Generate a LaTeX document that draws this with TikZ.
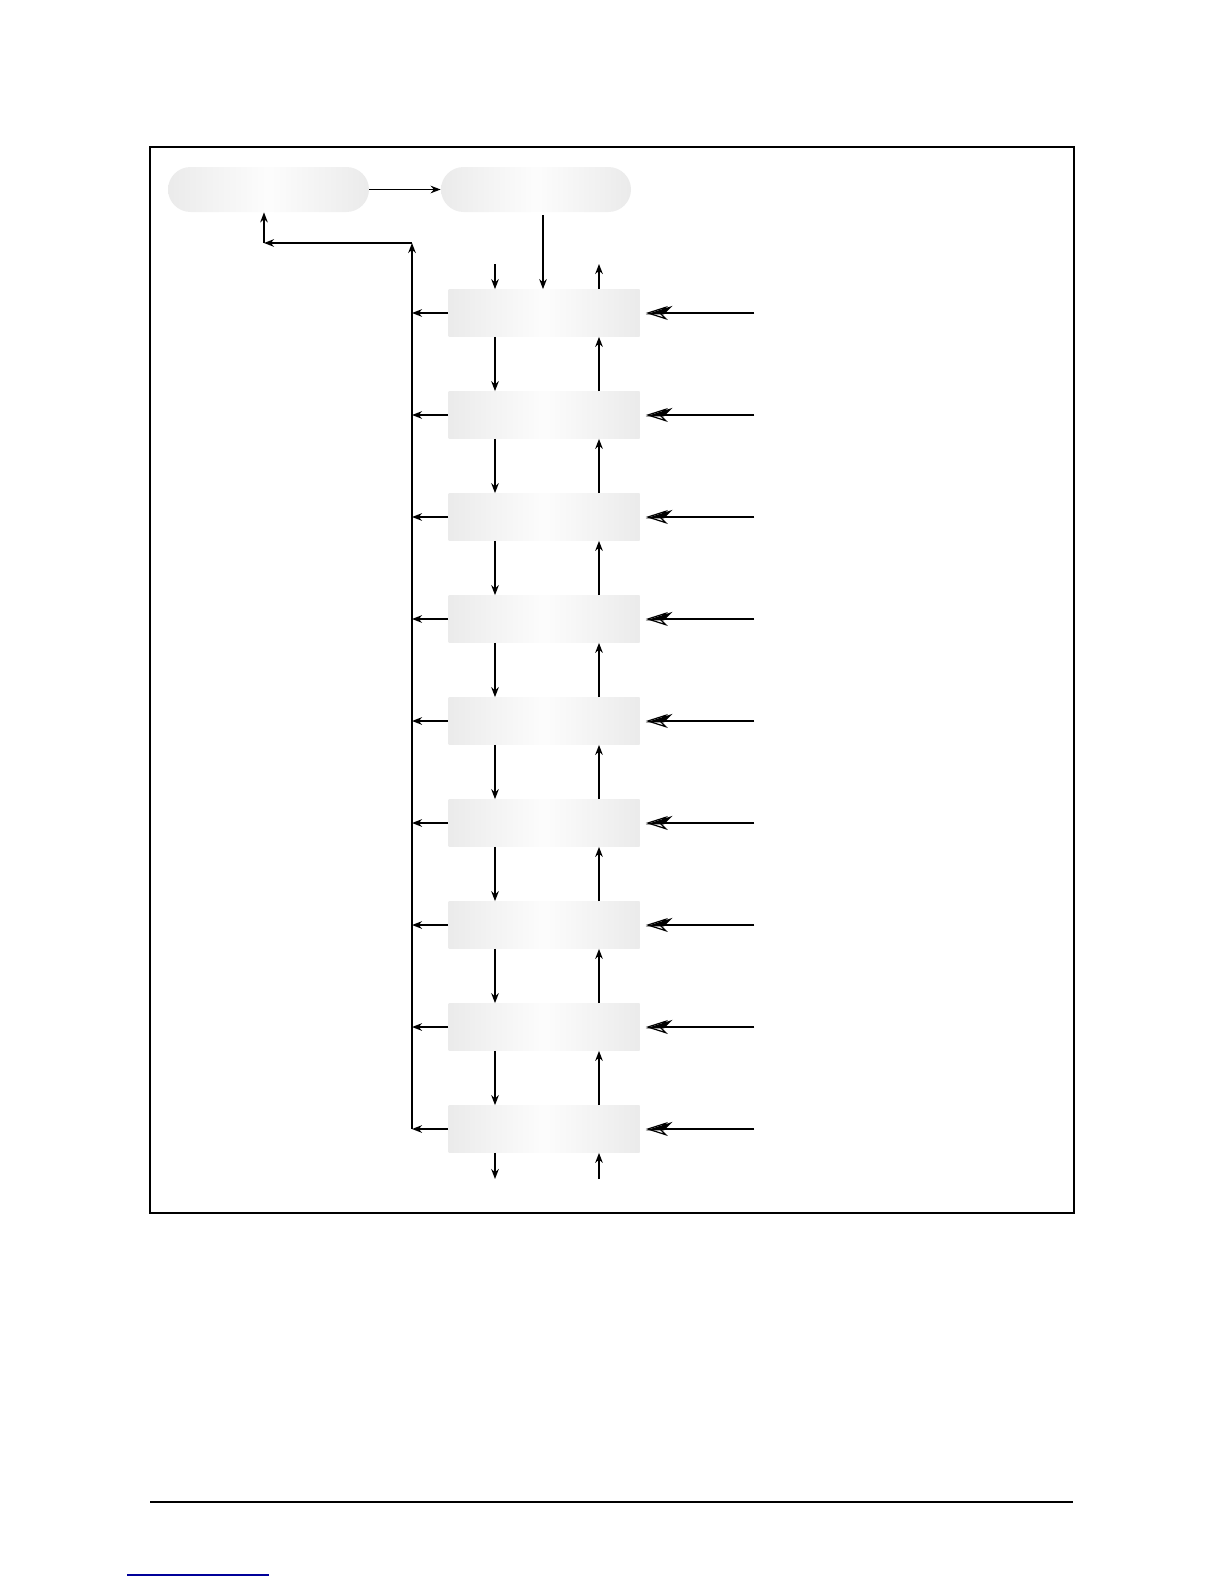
\documentclass[tikz,border=0pt]{standalone}
\usetikzlibrary{arrows.meta,shapes.misc}
\begin{document}
\begin{tikzpicture}[x=0.5pt,y=-0.5pt,
  arr/.style={-{Stealth[length=5pt,width=3.8pt]}, line width=0.8pt},
  inp/.style={-{Stealth[length=11pt,width=7pt,inset=3.5pt,open,line width=0.6pt]}, line width=1.4pt},
  inpfill/.style={-{Stealth[length=11pt,width=7pt,inset=3.5pt,harpoon,swap]}, line width=1.4pt},
  stagebox/.style={draw=none, minimum width=95.5pt, minimum height=23.5pt, inner sep=0pt,
    left color=black!8, right color=black!8, middle color=black!1},
  termbox/.style={draw=none, rounded rectangle, minimum height=22.5pt, inner sep=0pt,
    left color=black!8, right color=black!8, middle color=black!1}]
\useasboundingbox (0,0) rectangle (1224,1584);
% frame and page rules
\draw[line width=1pt] (150,147) rectangle (1074,1213);
\draw[line width=0.9pt] (150,1502) -- (1073,1502);
\draw[line width=0.9pt, blue!60!black] (127,1575) -- (269,1575);
% top terminals
\node[termbox, minimum width=100.5pt] (tl) at (268.5,189.5) {};
\node[termbox, minimum width=95pt] (tr) at (536,189.5) {};
\draw[arr] (tl.east) -- (tr.west);
% x positions
\coordinate (dx) at (495,0);
\coordinate (ux) at (599,0);
\coordinate (mx) at (543,0);
\coordinate (bx) at (412,0);
\coordinate (ix) at (754,0);
% stage boxes
\foreach \i in {1,...,9}{
  \pgfmathsetmacro{\yy}{313+102*(\i-1)}
  \node[stagebox] (b\i) at (544,\yy) {};
  \coordinate (bus\i) at (412,\yy);
  \coordinate (in\i) at (754,\yy);
  \draw[arr] (b\i.west) -- (bus\i);
  \draw[inp] (in\i) -- ([xshift=3pt]b\i.east);
  \draw[inpfill] (in\i) -- ([xshift=3pt]b\i.east);
}
% top connections
\draw[arr] (tr.south -| mx) ++(0,3) -- (b1.north -| mx);
\coordinate (d0) at (495,264);
\coordinate (u0) at (599,264);
\draw[arr] (d0) -- (b1.north -| dx);
\draw[arr] (b1.north -| ux) -- (u0);
% vertical chain
\foreach \i [count=\j from 2] in {1,...,8}{
  \draw[arr] (b\i.south -| dx) -- (b\j.north -| dx);
  \draw[arr] (b\j.north -| ux) -- (b\i.south -| ux);
}
% bottom stubs
\coordinate (d9) at (495,1179);
\coordinate (u9) at (599,1179);
\draw[arr] (b9.south -| dx) -- (d9);
\draw[arr] (u9) -- (b9.south -| ux);
% return bus
\coordinate (btop) at (412,243);
\coordinate (corner) at (264,243);
\draw[arr] (bus9) -- (btop);
\draw[arr] (btop) -- (corner);
\draw[arr] (corner) -- (tl.south -| corner);
\end{tikzpicture}
\end{document}
